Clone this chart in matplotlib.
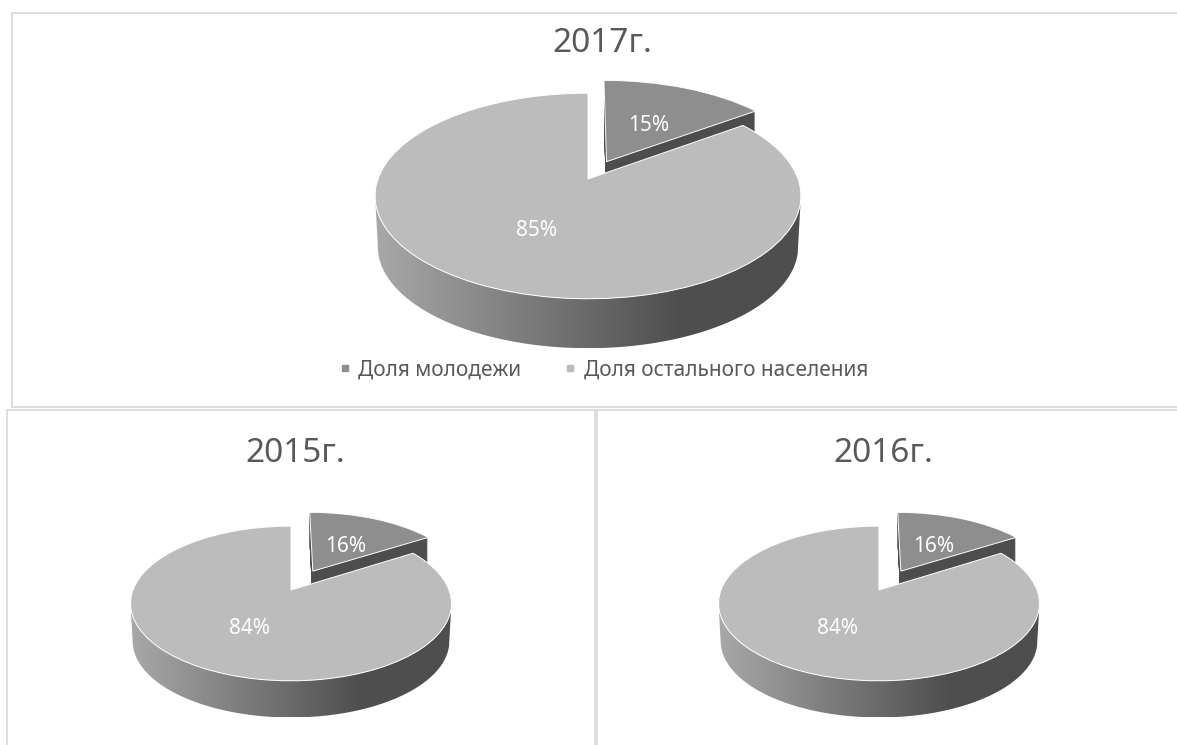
import numpy as np
import matplotlib
matplotlib.use("Agg")
import matplotlib.pyplot as plt
from matplotlib.transforms import Transform
from matplotlib.path import Path
from matplotlib.lines import Line2D
from matplotlib.patches import Rectangle
from matplotlib.colors import LinearSegmentedColormap

plt.rcParams['font.family'] = ['Noto Sans', 'DejaVu Sans']

W, H = 1177, 745
series_names = ["Доля молодежи", "Доля остального населения"]
titles = ["2017г.", "2015г.", "2016г."]
values_2017 = [15, 85]
values_2015 = [16, 84]
values_2016 = [16, 84]
colors = ["#8e8e8e", "#bcbcbc"]
text_dark = "#595959"
border = "#dedede"


class Persp(Transform):
    input_dims = output_dims = 2
    is_separable = False
    has_inverse = False

    def __init__(self, k, s=1.0, dy=0.0):
        super().__init__()
        self.k, self.s, self.dy = k, s, dy

    def transform_non_affine(self, xy):
        xy = np.asarray(xy, float)
        w = 1 + self.k * xy[:, 1]
        return np.column_stack((self.s * xy[:, 0] / w,
                                self.s * xy[:, 1] / w - self.dy))


fig = plt.figure(figsize=(W / 100, H / 100), dpi=100)
fig.patch.set_facecolor("white")


def px_axes(x0, y0, x1, y1):
    return fig.add_axes([x0 / W, 1 - y1 / H, (x1 - x0) / W, (y1 - y0) / H])


# panel borders
bg = fig.add_axes([0, 0, 1, 1])
bg.set_xlim(0, W)
bg.set_ylim(H, 0)
bg.axis("off")
for (x0, y0, x1, y1) in [(12, 13, 1200, 407), (7, 410, 595, 760), (597, 410, 1200, 760)]:
    bg.add_patch(Rectangle((x0, y0), x1 - x0, y1 - y0, fc="white", ec=border, lw=1.5))

grad = LinearSegmentedColormap.from_list(
    "side", [(0, "#a8a8a8"), (0.72, "#4e4e4e"), (1, "#4e4e4e")])


def pie3d(values, title, cx, cy, bx, ay, depth, k, explode, title_xy, tsize, lsize):
    pad_x, pad_y = 1.3, 1.9
    ax = px_axes(cx - pad_x * bx, cy - pad_y * ay, cx + pad_x * bx, cy + pad_y * ay)
    ax.axis("off")
    top = Persp(k)
    low = Persp(k, 0.987, depth)

    # rim of the large slice, painted as a horizontal gradient
    tt = np.linspace(0, 2 * np.pi, 720)
    full = np.column_stack((np.cos(tt), np.sin(tt)))
    fu, fl = top.transform_non_affine(full), low.transform_non_affine(full)
    il, ir = np.argmin(fu[:, 0]), np.argmax(fu[:, 0])
    il2, ir2 = np.argmin(fl[:, 0]), np.argmax(fl[:, 0])
    ta = np.linspace(tt[il], tt[ir] + 2 * np.pi if tt[ir] < tt[il] else tt[ir], 300)
    arc = np.column_stack((np.cos(ta), np.sin(ta)))
    tb = np.linspace(tt[il2], tt[ir2] + 2 * np.pi if tt[ir2] < tt[il2] else tt[ir2], 300)
    arc2 = np.column_stack((np.cos(tb), np.sin(tb)))
    poly = np.vstack((top.transform_non_affine(arc),
                      low.transform_non_affine(arc2)[::-1]))
    im = ax.imshow(np.linspace(0, 1, 256)[None, :], cmap=grad, aspect="auto",
                   extent=(poly[:, 0].min(), poly[:, 0].max(),
                           poly[:, 1].min(), poly[:, 1].max()), zorder=1)
    im.set_clip_path(Path(poly), transform=ax.transData)

    # inner dark face of the detached slice
    for d in np.linspace(0, 1, 70):
        shadow, _ = ax.pie([values[0], values[1]], colors=["#4d4d4d", "none"],
                           startangle=90, counterclock=False,
                           explode=[explode, 0], radius=0.995,
                           wedgeprops=dict(linewidth=0))
        tr = Persp(k, 1.0, depth * d * 0.9)
        for w in shadow:
            w.set_transform(tr + ax.transData)
            w.set_zorder(2)

    # top faces
    wedges, _, pcts = ax.pie(values, colors=colors, startangle=90, counterclock=False,
                             explode=[explode, 0], radius=1, autopct="%1.0f%%",
                             pctdistance=0.5,
                             wedgeprops=dict(linewidth=0.7, edgecolor="white"),
                             textprops=dict(color="white", fontsize=lsize))
    for w in wedges:
        w.set_transform(top + ax.transData)
        w.set_zorder(3)
    label_tr = Persp(k, 1.0, 3.0 / ay)
    for p in pcts:
        p.set_transform(label_tr + ax.transData)
        p.set_zorder(4)
    ax.set_aspect("auto")
    ax.set_xlim(-pad_x, pad_x)
    ax.set_ylim(-pad_y, pad_y)
    bg.text(title_xy[0], title_xy[1], title, fontsize=tsize, color=text_dark,
            ha="center", va="center")
    return wedges


pie3d(values_2017, titles[0], 588, 179, 210, 100, 0.51, 0.165, 0.2, (602, 44), 24, 15)
pie3d(values_2015, titles[1], 291, 590, 158, 75, 0.505, 0.174, 0.3, (295, 454), 24, 15)
pie3d(values_2016, titles[2], 879, 590, 158, 75, 0.505, 0.174, 0.3, (883, 454), 24, 15)

handles = [Line2D([], [], ls="", marker="s", ms=5, color=c) for c in colors]
fig.legend(handles, series_names, ncol=2, frameon=False, loc="center",
           bbox_to_anchor=(604 / W, 1 - 370 / H), fontsize=15,
           labelcolor=text_dark, handlelength=0.5, handletextpad=0.4,
           columnspacing=2.1)

fig.savefig("out.png", dpi=100)
